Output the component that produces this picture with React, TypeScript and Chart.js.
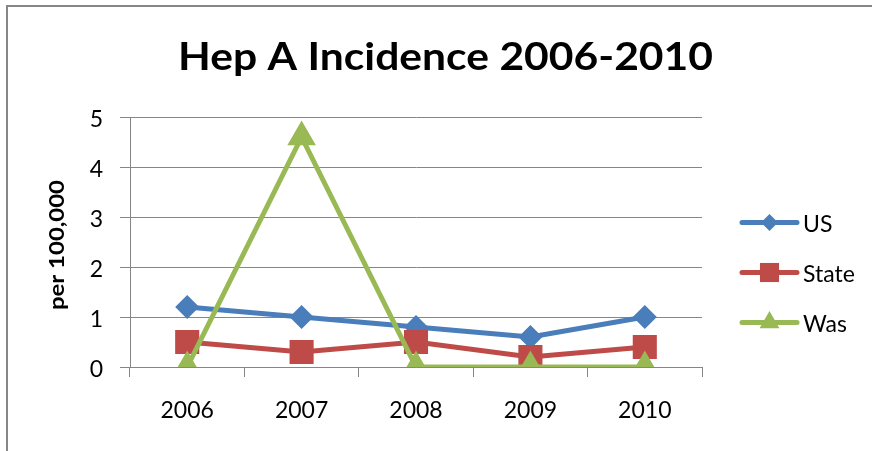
import React, { useEffect, useRef } from "react";
import { Chart, registerables } from "chart.js";

Chart.register(...registerables);

const categories = ["2006", "2007", "2008", "2009", "2010"];
const usValues = [1.2, 1.0, 0.8, 0.6, 1.0];
const stateValues = [0.5, 0.3, 0.5, 0.2, 0.4];
const wasValues = [0, 4.6, 0, 0, 0];
const seriesNames = ["US", "State", "Was"];
const titleText = "Hep A Incidence 2006-2010";
const yAxisTitle = "per 100,000";

const W = 872;
const H = 451;
const BLUE = "#4A7EBB";
const RED = "#BE4B48";
const GREEN = "#98B954";
const GRID = "#868686";
const FONT = "Lato, 'Open Sans', sans-serif";

function drawMarker(ctx: CanvasRenderingContext2D, style: string, x: number, y: number, r: number, color: string) {
  ctx.save();
  ctx.fillStyle = color;
  ctx.beginPath();
  if (style === "rectRot") {
    ctx.moveTo(x - r, y);
    ctx.lineTo(x, y - r);
    ctx.lineTo(x + r, y);
    ctx.lineTo(x, y + r);
  } else if (style === "rect") {
    const s = r * Math.SQRT1_2;
    ctx.rect(x - s, y - s, 2 * s, 2 * s);
  } else {
    const a = (2 * Math.PI) / 3;
    ctx.moveTo(x, y - r);
    ctx.lineTo(x + Math.sin(a) * r, y - Math.cos(a) * r);
    ctx.lineTo(x + Math.sin(2 * a) * r, y - Math.cos(2 * a) * r);
  }
  ctx.closePath();
  ctx.fill();
  ctx.restore();
}

function fitText(ctx: CanvasRenderingContext2D, text: string, x: number, y: number, targetWidth: number) {
  const w = ctx.measureText(text).width;
  const sx = targetWidth / w;
  ctx.save();
  ctx.translate(x, y);
  ctx.scale(sx, 1);
  ctx.textAlign = "center";
  ctx.fillText(text, 0, 0);
  ctx.restore();
}

const decorPlugin = {
  id: "decor",
  afterDraw(chart: any) {
    const ctx: CanvasRenderingContext2D = chart.ctx;
    ctx.save();
    // outer border
    ctx.strokeStyle = "#878787";
    ctx.lineWidth = 2;
    ctx.beginPath();
    ctx.moveTo(7, H + 2);
    ctx.lineTo(7, 6);
    ctx.lineTo(W + 2, 6);
    ctx.stroke();

    // title
    ctx.fillStyle = "#000";
    ctx.font = `bold 38px ${FONT}`;
    ctx.textBaseline = "alphabetic";
    fitText(ctx, titleText, 445.5, 70, 535);

    // y axis title
    ctx.save();
    ctx.translate(64, 245);
    ctx.rotate(-Math.PI / 2);
    ctx.font = `bold 21px ${FONT}`;
    fitText(ctx, yAxisTitle, 0, 0, 130);
    ctx.restore();

    // legend
    const dsets = chart.data.datasets;
    for (let i = 0; i < dsets.length; i++) {
      const d = dsets[i];
      const y = 222.5 + 50 * i;
      ctx.strokeStyle = d.borderColor;
      ctx.lineWidth = 5;
      ctx.lineCap = "round";
      ctx.beginPath();
      ctx.moveTo(742, y);
      ctx.lineTo(797, y);
      ctx.stroke();
      drawMarker(ctx, d.pointStyle, 769.5, y, d.pointRadius, d.pointBackgroundColor);
      ctx.fillStyle = "#000";
      ctx.font = `23px ${FONT}`;
      ctx.textAlign = "left";
      ctx.textBaseline = "alphabetic";
      ctx.fillText(d.label, 803, y + 9);
    }
    ctx.restore();
  },
};

export default function App() {
  const ref = useRef<HTMLCanvasElement>(null);

  useEffect(() => {
    if (!ref.current) return;
    const chart = new Chart(ref.current, {
      type: "line",
      data: {
        labels: categories,
        datasets: [
          {
            label: seriesNames[0],
            data: usValues,
            borderColor: BLUE,
            backgroundColor: BLUE,
            pointBackgroundColor: BLUE,
            pointBorderColor: BLUE,
            pointStyle: "rectRot",
            pointRadius: 8.5,
            borderWidth: 5,
            order: 2,
          },
          {
            label: seriesNames[1],
            data: stateValues,
            borderColor: RED,
            backgroundColor: RED,
            pointBackgroundColor: RED,
            pointBorderColor: RED,
            pointStyle: "rect",
            pointRadius: 13.5,
            borderWidth: 5,
            order: 1,
          },
          {
            label: seriesNames[2],
            data: wasValues,
            borderColor: GREEN,
            backgroundColor: GREEN,
            pointBackgroundColor: GREEN,
            pointBorderColor: GREEN,
            pointStyle: "triangle",
            pointRadius: 11.5,
            borderWidth: 5,
            order: 0,
          },
        ] as any,
      },
      options: {
        responsive: false,
        animation: false,
        devicePixelRatio: 1,
        layout: { padding: { left: 0, top: 117, right: 170, bottom: 0 } },
        plugins: {
          legend: { display: false },
          title: { display: false },
          tooltip: { enabled: false },
        },
        scales: {
          x: {
            offset: true,
            grid: {
              offset: true,
              drawOnChartArea: false,
              drawTicks: true,
              tickLength: 10,
              color: GRID,
              lineWidth: 1,
            },
            border: { display: true, color: GRID, width: 1 },
            ticks: {
              color: "#000",
              font: { family: FONT, size: 23 },
              padding: 20,
              maxRotation: 0,
            },
            afterFit: (s: any) => {
              s.height = H - 367;
            },
          },
          y: {
            min: 0,
            max: 5,
            grid: {
              color: GRID,
              lineWidth: 1,
              tickLength: 10,
              drawTicks: true,
            },
            border: { display: true, color: GRID, width: 1 },
            ticks: {
              stepSize: 1,
              color: "#000",
              font: { family: FONT, size: 23 },
              padding: 17,
              labelOffset: 3,
            },
            afterFit: (s: any) => {
              s.width = 130;
            },
          },
        },
      },
      plugins: [decorPlugin],
    });
    return () => chart.destroy();
  }, []);

  return (
    <div style={{ position: "absolute", left: 0, top: 0, width: W, height: H, background: "#fff" }}>
      <canvas ref={ref} width={W} height={H} style={{ width: W, height: H, display: "block" }} />
    </div>
  );
}
